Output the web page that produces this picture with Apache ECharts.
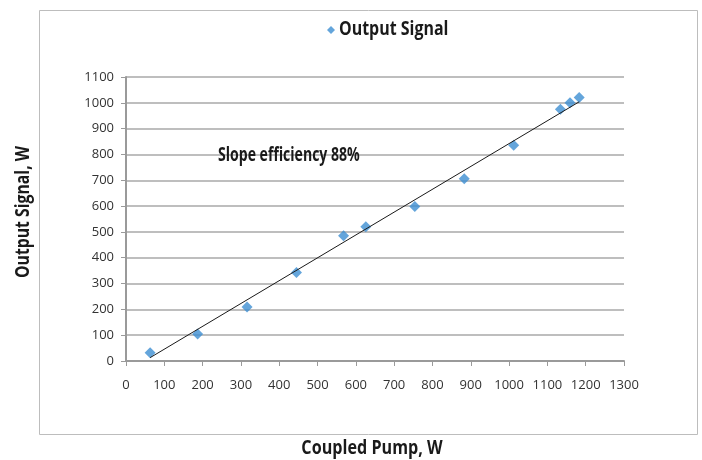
<!DOCTYPE html>
<html>
<head>
<meta charset="utf-8">
<script src="https://cdn.jsdelivr.net/npm/echarts@6/dist/echarts.min.js"></script>
<style>html,body{margin:0;padding:0;background:#fff}#c{width:702px;height:460px}</style>
</head>
<body>
<div id="c"></div>
<script>
// Data
var pumpW = [63, 187, 316, 445, 568, 626, 754, 883, 1012, 1134, 1159, 1183];
var signalW = [32, 105, 209, 343, 485, 520, 598, 706, 836, 975, 1000, 1021];
var trendX = [63, 1183];
var trendY = [13, 1004];
var seriesName = 'Output Signal';
var annotation = 'Slope efficiency 88%';
var xTitle = 'Coupled Pump, W';
var yTitle = 'Output Signal, W';

var boldFont = "'Open Sans', 'DejaVu Sans', sans-serif";
var tickFont = "'Open Sans', 'DejaVu Sans', sans-serif";

function narrowText(text, x, y, size, sx, align, rot) {
  return {
    type: 'text', x: x, y: y, scaleX: sx, rotation: rot || 0, z: 10,
    style: { text: text, fontFamily: boldFont, fontWeight: 'bold', fontSize: size,
             fill: '#1a1a1a', align: align, verticalAlign: 'middle' }
  };
}

var chart = echarts.init(document.getElementById('c'));
chart.setOption({
  animation: false,
  backgroundColor: '#fff',
  grid: { left: 126, right: 78, top: 77, bottom: 99, containLabel: false },
  legend: {
    data: [{ name: seriesName, icon: 'diamond' }],
    top: 26, left: 327, padding: 0,
    itemWidth: 8, itemHeight: 8, itemGap: 0,
    formatter: function () { return ''; },
    textStyle: { fontSize: 14 }
  },
  graphic: [
    { type: 'rect', z: -1, shape: { x: 39.5, y: 10.5, width: 658, height: 424 },
      style: { fill: 'none', stroke: '#bdbdbd', lineWidth: 1 } },
    narrowText(seriesName, 339, 30, 19, 0.84, 'left'),
    narrowText(annotation, 218, 156, 19, 0.74, 'left'),
    narrowText(xTitle, 372, 449, 19, 0.85, 'center'),
    narrowText(yTitle, 24, 212, 19, 0.83, 'center', Math.PI / 2)
  ],
  xAxis: {
    type: 'value', min: 0, max: 1300, interval: 100,
    axisLine: { show: true, lineStyle: { color: '#9a9a9a', width: 2 } },
    axisTick: { show: true, length: 5, lineStyle: { color: '#9a9a9a', width: 1 } },
    axisLabel: { fontFamily: tickFont, fontSize: 13, color: '#333', margin: 18,
                 formatter: function (v) { return String(v); } },
    splitLine: { show: false }
  },
  yAxis: {
    type: 'value', min: 0, max: 1100, interval: 100,
    axisLine: { show: true, lineStyle: { color: '#9a9a9a', width: 2 } },
    axisTick: { show: true, length: 5, lineStyle: { color: '#9a9a9a', width: 1 } },
    axisLabel: { fontFamily: tickFont, fontSize: 13, color: '#333', margin: 12,
                 formatter: function (v) { return String(v); } },
    splitLine: { show: true, lineStyle: { color: '#a8a8a8', width: 1.5 } }
  },
  series: [
    {
      name: seriesName, type: 'scatter', symbol: 'diamond', symbolSize: 11,
      itemStyle: { color: '#3d8fd2' },
      data: pumpW.map(function (x, i) { return [x, signalW[i]]; }),
      z: 3
    },
    {
      name: 'trend', type: 'line', showSymbol: false, symbol: 'none',
      lineStyle: { color: '#1a1a1a', width: 1 },
      data: trendX.map(function (x, i) { return [x, trendY[i]]; }),
      z: 4, silent: true
    }
  ]
});
</script>
</body>
</html>
